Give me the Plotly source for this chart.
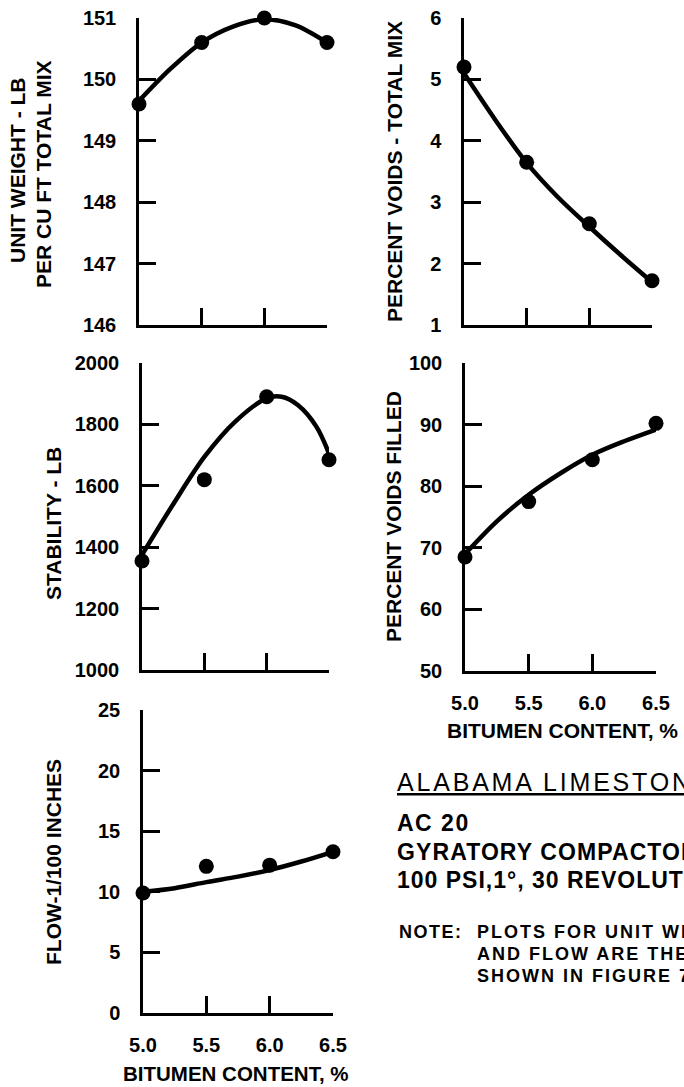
import plotly.graph_objects as go

W, H = 684, 1087

# ---- data ----
bitumen = [5.0, 5.5, 6.0, 6.5]
curve_x = [5.0, 5.25, 5.5, 5.75, 6.0, 6.25, 6.5]

unit_weight = [149.6, 150.6, 151.0, 150.6]
unit_weight_curve = [149.65, 150.17, 150.6, 150.86, 150.98, 150.88, 150.6]

voids_total = [5.2, 3.65, 2.65, 1.72]
voids_total_curve = [5.1, 4.34, 3.64, 3.08, 2.6, 2.14, 1.7]

stability = [1355, 1620, 1890, 1685]
stability_curve_x = [5.0, 5.25, 5.5, 5.75, 6.0, 6.12, 6.25, 6.4, 6.5]
stability_curve = [1375, 1540, 1694, 1810, 1885, 1890, 1863, 1792, 1705]

voids_filled = [68.5, 77.5, 84.3, 90.2]
voids_filled_curve = [69.0, 74.3, 78.6, 82.1, 85.1, 87.3, 89.2]

flow = [9.9, 12.1, 12.2, 13.3]
flow_curve = [10.0, 10.3, 10.8, 11.25, 11.8, 12.5, 13.3]

x_ticks = [5.0, 5.5, 6.0, 6.5]
x_ticktext = ["5.0", "5.5", "6.0", "6.5"]

FONT = "Liberation Sans, Arial, sans-serif"

# panel pixel boxes: (x0, x1, ytop, ybottom)
panels = [
    dict(box=(139, 327, 18, 325), yr=(146, 151), dt=1, sx=bitumen, sy=unit_weight,
         cx=curve_x, cy=unit_weight_curve, xlabels=False),
    dict(box=(464, 652, 18, 325), yr=(1, 6), dt=1, sx=bitumen, sy=voids_total,
         cx=curve_x, cy=voids_total_curve, xlabels=False),
    dict(box=(142, 329, 363, 670), yr=(1000, 2000), dt=200, sx=bitumen, sy=stability,
         cx=stability_curve_x, cy=stability_curve, xlabels=False),
    dict(box=(465, 656, 363, 671), yr=(50, 100), dt=10, sx=bitumen, sy=voids_filled,
         cx=curve_x, cy=voids_filled_curve, xlabels=True),
    dict(box=(143, 333, 710, 1013), yr=(0, 25), dt=5, sx=bitumen, sy=flow,
         cx=curve_x, cy=flow_curve, xlabels=True),
]

fig = go.Figure()
layout = dict(
    width=W, height=H, autosize=False,
    margin=dict(l=0, r=0, t=0, b=0, pad=0, autoexpand=False),
    paper_bgcolor="white", plot_bgcolor="white",
    showlegend=False,
    font=dict(family=FONT, color="black"),
)

for i, p in enumerate(panels, start=1):
    x0, x1, yt, yb = p["box"]
    xa = "x" if i == 1 else f"x{i}"
    ya = "y" if i == 1 else f"y{i}"
    xkey = "xaxis" if i == 1 else f"xaxis{i}"
    ykey = "yaxis" if i == 1 else f"yaxis{i}"
    layout[xkey] = dict(
        domain=[x0 / W, x1 / W], anchor=ya, range=[5.0, 6.5], automargin=False,
        tickvals=x_ticks, ticktext=x_ticktext, ticks="inside", ticklen=17,
        tickwidth=2.5, tickcolor="black", showline=True, linewidth=2.5,
        linecolor="black", showgrid=False, zeroline=False,
        showticklabels=p["xlabels"], ticklabelstandoff=12,
        tickfont=dict(family=FONT, size=20, color="black", weight="bold"),
    )
    layout[ykey] = dict(
        domain=[1 - yb / H, 1 - yt / H], anchor=xa, range=list(p["yr"]),
        automargin=False,
        dtick=p["dt"], tick0=p["yr"][0], ticks="inside", ticklen=17,
        tickwidth=2.5, tickcolor="black", showline=True, linewidth=2.5,
        linecolor="black", showgrid=False, zeroline=False,
        ticklabelstandoff=16,
        tickfont=dict(family=FONT, size=20, color="black", weight="bold"),
    )
    fig.add_trace(go.Scatter(
        x=p["cx"], y=p["cy"], mode="lines", xaxis=xa, yaxis=ya,
        line=dict(color="black", width=4.5, shape="spline", smoothing=0.9),
        cliponaxis=False, hoverinfo="skip"))
    fig.add_trace(go.Scatter(
        x=p["sx"], y=p["sy"], mode="markers", xaxis=xa, yaxis=ya,
        marker=dict(color="black", size=15), cliponaxis=False))

fig.update_layout(**layout)


def ann(text, x, y, size=21, angle=0, bold=True, xanchor="center", ls=None):
    if ls is not None:
        text = f'<span style="letter-spacing:{ls}px">{text}</span>'
    fig.add_annotation(
        text=text, x=x / W, y=1 - y / H, xref="paper", yref="paper",
        showarrow=False, textangle=angle, xanchor=xanchor, yanchor="middle",
        font=dict(family=FONT, size=size, color="black",
                  weight="bold" if bold else "normal"))


# y-axis titles
ann("UNIT WEIGHT - LB", 17, 171, angle=-90)
ann("PER CU FT TOTAL MIX", 43, 174, angle=-90)
ann("PERCENT VOIDS - TOTAL MIX", 395, 172, angle=-90)
ann("STABILITY - LB", 53, 524, angle=-90)
ann("PERCENT VOIDS FILLED", 393, 517, angle=-90)
ann("FLOW-1/100 INCHES", 53, 862, angle=-90)

# x-axis titles
ann("BITUMEN CONTENT, %", 562, 730)
ann("BITUMEN CONTENT, %", 236, 1073, size=20.5)

# side text block (runs past the right edge, as in the reference)
ann("<u>ALABAMA LIMESTONE</u>", 395, 782, size=25, bold=False, xanchor="left", ls=2.8)
ann("AC 20", 395, 823, size=23, xanchor="left", ls=1.5)
ann("GYRATORY COMPACTOR", 395, 852, size=23, xanchor="left", ls=1.1)
ann("100 PSI,1°, 30 REVOLUTIONS", 395, 880, size=23, xanchor="left", ls=1)
ann("NOTE:", 397, 932, size=18, xanchor="left", ls=1.5)
ann("PLOTS FOR UNIT WEIGHT, STABILITY", 475, 932, size=18, xanchor="left", ls=2)
ann("AND FLOW ARE THE SAME AS", 475, 954, size=18, xanchor="left", ls=2)
ann("SHOWN IN FIGURE 7", 475, 976, size=18, xanchor="left", ls=2)

fig.write_html(
    "out.html",
    config={"displayModeBar": False},
    post_script="document.body.style.margin='0';document.body.style.overflow='hidden';",
)
